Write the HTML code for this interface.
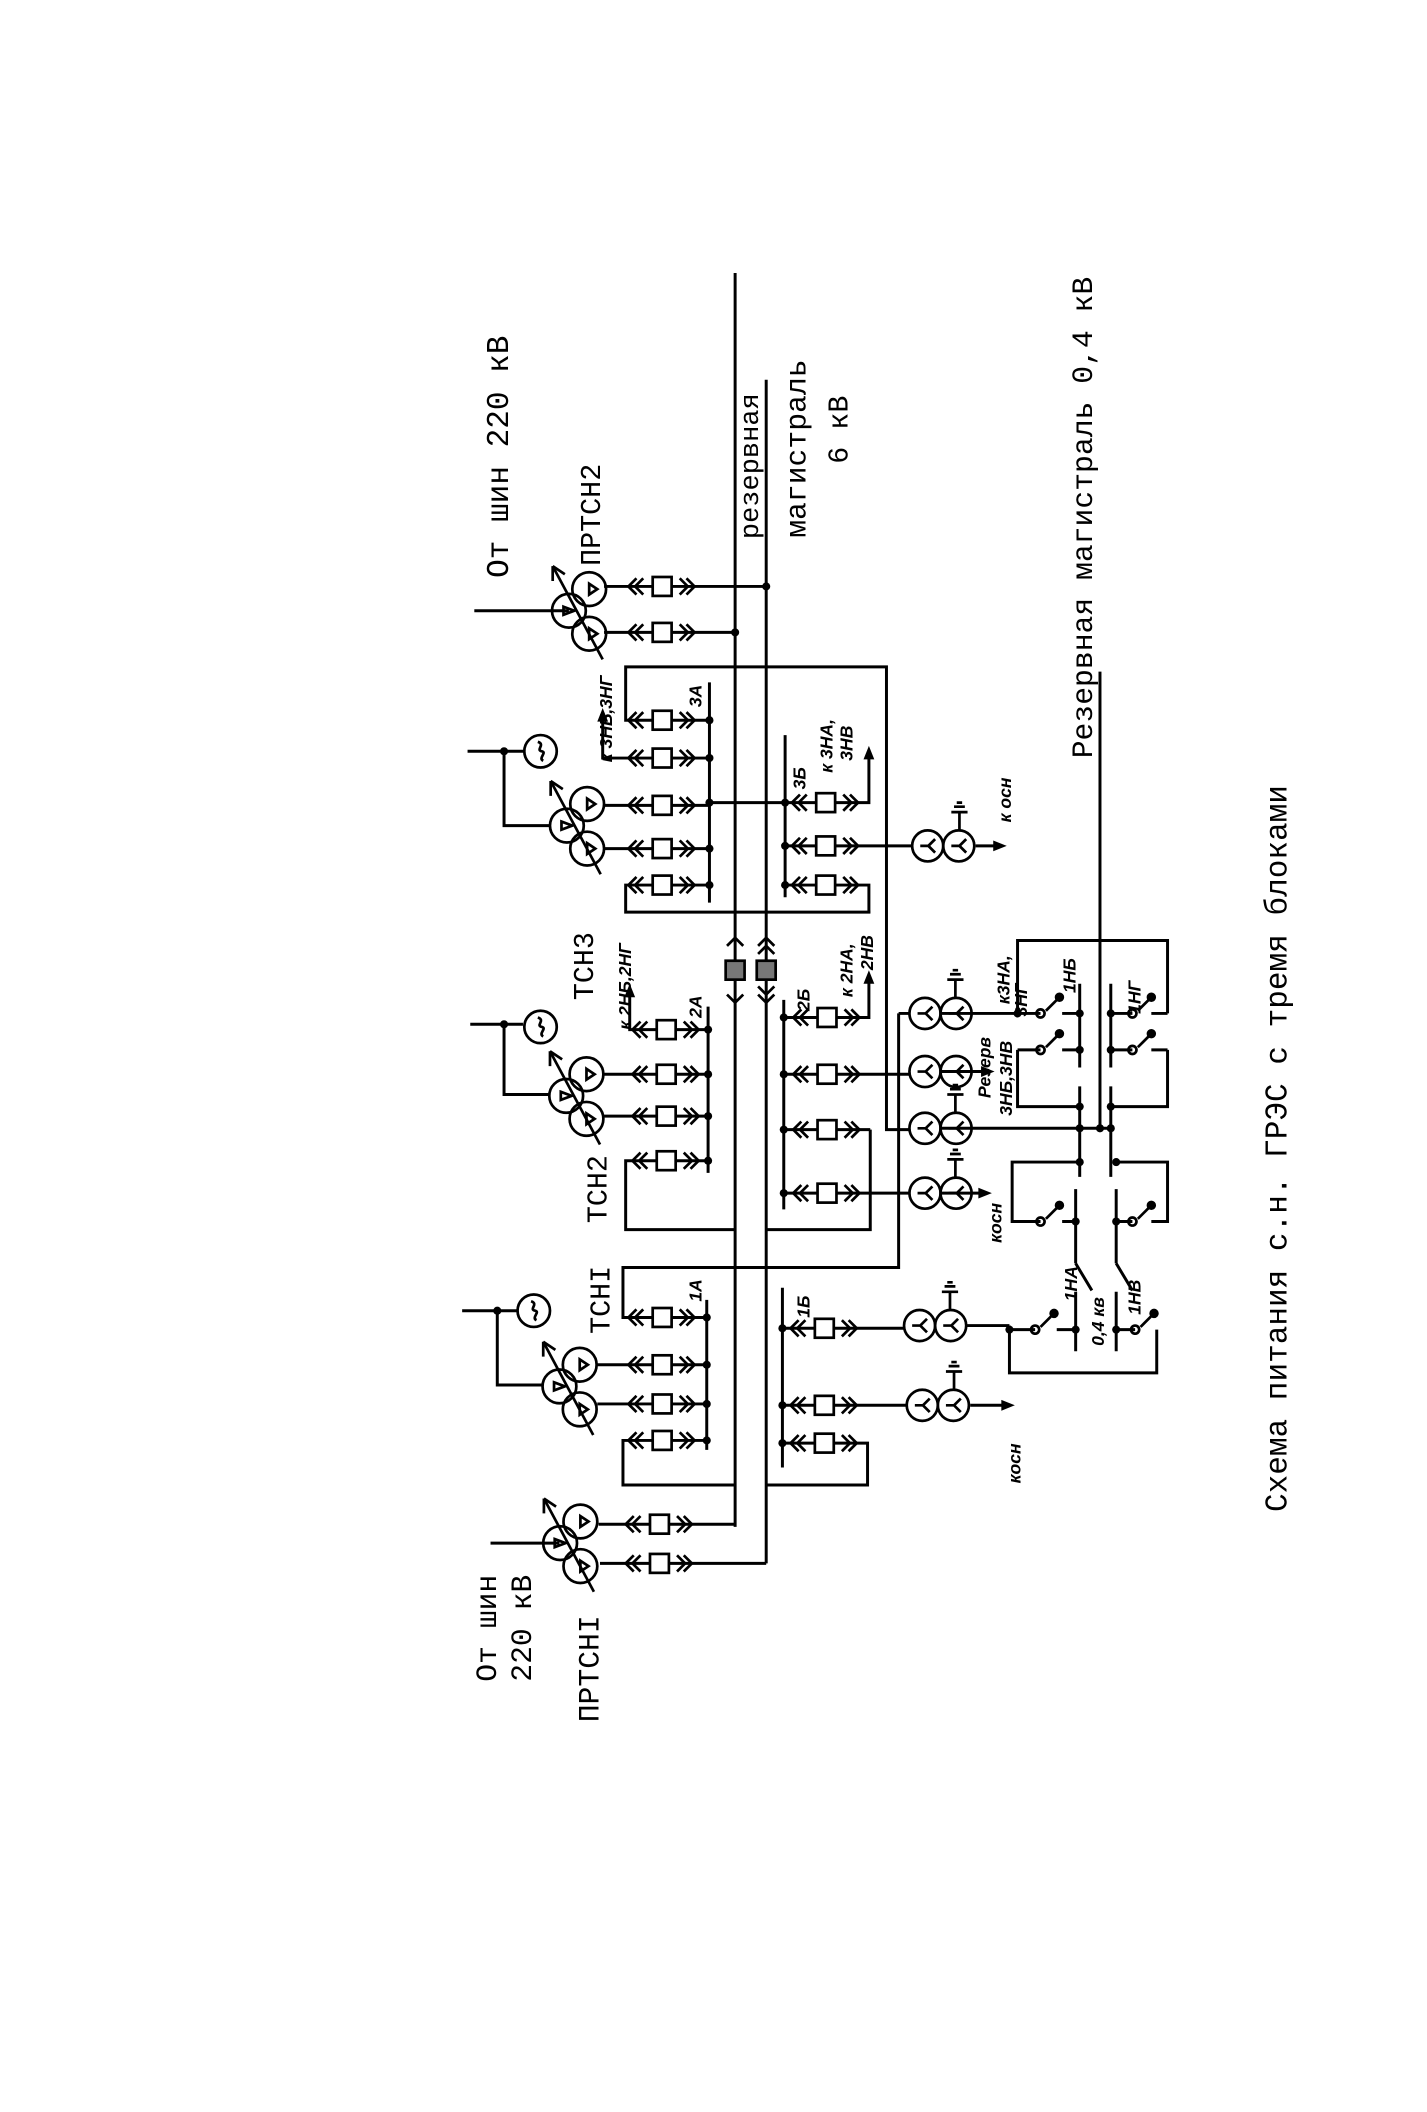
<!DOCTYPE html>
<html><head><meta charset="utf-8">
<style>
html,body{margin:0;padding:0;background:#fff;}
svg{display:block;}
.t{font-family:"Liberation Mono",monospace;fill:#000;}
.h{font-family:"Liberation Sans",sans-serif;font-weight:bold;font-style:italic;fill:#000;font-size:13px;}
</style></head><body>
<svg width="1427" height="2112" viewBox="0 0 1056 1563" preserveAspectRatio="none" xmlns="http://www.w3.org/2000/svg">
<defs>
<g id="b"><path d="M-14,-6 L-20,0 L-14,6 M-19,-6 L-25,0 L-19,6 M13,-6 L19,0 L13,6 M18,-6 L24,0 L18,6" fill="none" stroke="#000" stroke-width="2"/><rect x="-7" y="-7" width="14" height="14" fill="#fff" stroke="#000" stroke-width="2"/></g>
<g id="yy" fill="none" stroke="#000" stroke-width="2"><circle cx="-11.5" cy="0" r="11.5" fill="#fff"/><circle cx="11.5" cy="0" r="11.5"/><path d="M-17,0 H-11 L-6,-5 M-11,0 L-6,5 M6,0 H12 L17,-5 M12,0 L17,5"/></g>
<g id="gen" fill="none" stroke="#000" stroke-width="2"><circle r="12" fill="#fff"/><path d="M-2,-7 C4,-5 -4,-1 1,0 C5,1 -2,5 2,7"/></g>
<g id="t3" fill="none" stroke="#000" stroke-width="2"><circle cx="0" cy="0" r="12.5"/><circle cx="15" cy="-16" r="12.5"/><circle cx="15" cy="17" r="12.5"/><path d="M-4,-3 L4,0 L-4,3Z M15,-20 L21,-16 L15,-12Z M15,13 L21,17 L15,21Z"/><path d="M25,36 L-12,-33"/><path d="M-12,-33 L-12,-22 M-12,-33 L-3,-27"/></g>
<g id="gnd" stroke="#000" stroke-width="2"><path d="M0,0 V-14 M-6,-14 H6 M-4,-18 H4 M-2,-21 H2"/></g>
<g id="sw" fill="none" stroke="#000" stroke-width="2"><circle cx="0" cy="0" r="3"/><path d="M4,-2 L16,-14"/><circle cx="14" cy="-12" r="2.5" fill="#000"/></g>
</defs>
<g fill="none" stroke="#000" stroke-width="2.2">
<!-- rails -->
<path d="M544,202 V1130 M567,281 V1157"/>
<!-- PRTSN2 -->
<path d="M351,452 H421 M447,434 H567 M447,468 H544"/>
<!-- unit 3 -->
<path d="M346,556 H388 M373,556 V611 H407 M447,596 H525 M447,628 H525"/>
<path d="M525,505 V668 M525,533 H463 V493.5 H656 V836 H676 M525,561 H446 V528 M525,655 H463 V675 H644 M525,594 H581"/>
<path d="M581,544 V664 M581,594 H643 V556 M581,626 H676 M581,655 H643 V676 M722,626 H740"/>
<!-- unit 2 -->
<path d="M348,758 H387 M373,758 V810 H407 M447,795 H524 M447,826 H524"/>
<path d="M524,745 V868 M524,762 H466 V732 M524,859 H463 V910 H544 M567,910 H644 V836 M580,836 H644"/>
<path d="M580,740 V895 M580,753 H643 V722 M580,795 H674 M580,883 H674"/>
<path d="M665,750 H674 M665,750 V938 H461 V975 H523"/>
<!-- unit 1 -->
<path d="M342,970 H383 M368,970 V1025 H402 M442,1010 H523 M442,1039 H523 M523,962 V1073 M523,1066 H461 V1099 H544 M567,1099 H642 V1068 H579"/>
<path d="M579,953 V1086 M579,983 H669 M579,1040 H671 M715,981 H747 M718,1040 H745"/>
<!-- PRTSN1 -->
<path d="M363,1142 H414 M443,1128 H544 M444,1157 H567"/>
<!-- YY secondaries unit 2 -->
<path d="M696,750 H753 M696,793 H730 M696,835 H822 M696,883 H728"/>
<!-- 0.4kV -->
<path d="M814,497 V835"/>
<path d="M753,750 V696 H864 V750 M753,777 V819 H799 M822,819 H864 V777"/>
<path d="M799,728 V790 M799,804 V871 M822,728 V790 M822,804 V871"/>
<path d="M753,750 H770 M786,750 H799 M822,750 H838 M852,750 H864 M753,777 H770 M786,777 H799 M822,777 H838 M852,777 H864"/>
<path d="M799,860 H749 V904 H770 M786,904 H796 M826,860 H864 V904 H852 M838,904 H826"/>
<path d="M796,880 V935 M826,880 V935 M796,935 L808,955 M826,935 L838,955 M796,956 V1000 M826,956 V1000"/>
<path d="M747,981 V1016 H856 V984 M747,984 H766 M782,984 H796 M826,984 H840"/>
</g>
<!-- dots -->
<g fill="#000">
<circle cx="567" cy="434" r="3"/><circle cx="544" cy="468" r="3"/>
<circle cx="373" cy="556" r="3"/><circle cx="525" cy="533" r="3"/><circle cx="525" cy="561" r="3"/><circle cx="525" cy="594" r="3"/><circle cx="525" cy="628" r="3"/><circle cx="525" cy="655" r="3"/>
<circle cx="581" cy="594" r="3"/><circle cx="581" cy="626" r="3"/><circle cx="581" cy="655" r="3"/>
<circle cx="373" cy="758" r="3"/><circle cx="524" cy="762" r="3"/><circle cx="524" cy="795" r="3"/><circle cx="524" cy="826" r="3"/><circle cx="524" cy="859" r="3"/>
<circle cx="580" cy="753" r="3"/><circle cx="580" cy="795" r="3"/><circle cx="580" cy="836" r="3"/><circle cx="580" cy="883" r="3"/>
<circle cx="368" cy="970" r="3"/><circle cx="523" cy="975" r="3"/><circle cx="523" cy="1010" r="3"/><circle cx="523" cy="1039" r="3"/><circle cx="523" cy="1066" r="3"/>
<circle cx="579" cy="983" r="3"/><circle cx="579" cy="1040" r="3"/><circle cx="579" cy="1068" r="3"/>
<circle cx="753" cy="750" r="3"/><circle cx="799" cy="750" r="3"/><circle cx="799" cy="777" r="3"/><circle cx="822" cy="750" r="3"/><circle cx="822" cy="777" r="3"/>
<circle cx="799" cy="819" r="3"/><circle cx="822" cy="819" r="3"/><circle cx="799" cy="835" r="3"/><circle cx="814" cy="835" r="3"/><circle cx="822" cy="835" r="3"/>
<circle cx="799" cy="860" r="3"/><circle cx="826" cy="860" r="3"/><circle cx="796" cy="904" r="3"/><circle cx="826" cy="904" r="3"/>
<circle cx="747" cy="984" r="3"/><circle cx="796" cy="984" r="3"/><circle cx="826" cy="984" r="3"/>
<!-- arrowheads -->
<path d="M446,524 L442,534 L450,534Z M466,728 L462,738 L470,738Z M643,552 L639,562 L647,562Z M643,718 L639,728 L647,728Z"/>
<path d="M745,626 L735,622 L735,630Z M736,793 L726,789 L726,797Z M734,883 L724,879 L724,887Z M751,1040 L741,1036 L741,1044Z"/>
</g>
<!-- breakers -->
<use href="#b" x="490" y="434"/><use href="#b" x="490" y="468"/>
<use href="#b" x="490" y="533"/><use href="#b" x="490" y="561"/><use href="#b" x="490" y="596"/><use href="#b" x="490" y="628"/><use href="#b" x="490" y="655"/>
<use href="#b" x="611" y="594"/><use href="#b" x="611" y="626"/><use href="#b" x="611" y="655"/>
<use href="#b" x="493" y="762"/><use href="#b" x="493" y="795"/><use href="#b" x="493" y="826"/><use href="#b" x="493" y="859"/>
<use href="#b" x="612" y="753"/><use href="#b" x="612" y="795"/><use href="#b" x="612" y="836"/><use href="#b" x="612" y="883"/>
<use href="#b" x="490" y="975"/><use href="#b" x="490" y="1010"/><use href="#b" x="490" y="1039"/><use href="#b" x="490" y="1066"/>
<use href="#b" x="610" y="983"/><use href="#b" x="610" y="1040"/><use href="#b" x="610" y="1068"/>
<use href="#b" x="488" y="1128"/><use href="#b" x="488" y="1157"/>
<!-- hatched boxes -->
<g stroke="#000" stroke-width="2"><rect x="537" y="711" width="14" height="14" fill="#777"/><rect x="560" y="711" width="14" height="14" fill="#777"/>
<path d="M538,700 L544,694 L550,700 M538,736 L544,742 L550,736 M561,700 L567,694 L573,700 M561,736 L567,742 L573,736 M561,706 L567,700 L573,706 M561,730 L567,736 L573,730" fill="none"/></g>
<!-- generators / transformers -->
<use href="#gen" x="400" y="556"/><use href="#gen" x="400" y="760"/><use href="#gen" x="395" y="970"/>
<use href="#t3" x="421" y="452"/><use href="#t3" x="419.5" y="611"/><use href="#t3" x="419" y="811"/><use href="#t3" x="414" y="1026"/><use href="#t3" x="414.5" y="1142"/>
<use href="#yy" x="698" y="626"/><use href="#gnd" x="710" y="615"/>
<use href="#yy" x="696" y="750"/><use href="#gnd" x="707" y="739"/>
<use href="#yy" x="696" y="793"/><use href="#yy" x="696" y="835"/><use href="#gnd" x="707" y="824"/>
<use href="#yy" x="696" y="883"/><use href="#gnd" x="707" y="872"/>
<use href="#yy" x="692" y="981"/><use href="#gnd" x="703" y="970"/>
<use href="#yy" x="694" y="1040"/><use href="#gnd" x="706" y="1029"/>
<!-- switches -->
<use href="#sw" x="770" y="750"/><use href="#sw" x="770" y="777"/><use href="#sw" x="838" y="750"/><use href="#sw" x="838" y="777"/>
<use href="#sw" x="770" y="904"/><use href="#sw" x="838" y="904"/><use href="#sw" x="766" y="984"/><use href="#sw" x="840" y="984"/>
<!-- typed text -->
<g class="t">
<text transform="translate(376,338) rotate(-90)" text-anchor="middle" font-size="23">От шин 220 кВ</text>
<text transform="translate(444,381) rotate(-90)" text-anchor="middle" font-size="21">ПРТСН2</text>
<text transform="translate(561,345) rotate(-90)" text-anchor="middle" font-size="20">резервная</text>
<text transform="translate(596,332) rotate(-90)" text-anchor="middle" font-size="22">магистраль</text>
<text transform="translate(627,318) rotate(-90)" text-anchor="middle" font-size="21">6 кВ</text>
<text transform="translate(808,383) rotate(-90)" text-anchor="middle" font-size="22">Резервная магистраль 0,4 кВ</text>
<text transform="translate(439,715) rotate(-90)" text-anchor="middle" font-size="21">ТСН3</text>
<text transform="translate(449,880) rotate(-90)" text-anchor="middle" font-size="21">ТСН2</text>
<text transform="translate(451,962) rotate(-90)" text-anchor="middle" font-size="21">ТСНI</text>
<text transform="translate(367,1205) rotate(-90)" text-anchor="middle" font-size="22">От шин</text>
<text transform="translate(393,1205) rotate(-90)" text-anchor="middle" font-size="22">220 кВ</text>
<text transform="translate(443,1235) rotate(-90)" text-anchor="middle" font-size="22">ПРТСНI</text>
<text transform="translate(952,850) rotate(-90)" text-anchor="middle" font-size="23">Схема питания с.н. ГРЭС с тремя блоками</text>
</g>
<!-- handwritten labels -->
<g class="h">
<text transform="translate(453,532) rotate(-90)" text-anchor="middle">к 3НБ,3НГ</text>
<text transform="translate(519,515) rotate(-90)" text-anchor="middle">3А</text>
<text transform="translate(596,576) rotate(-90)" text-anchor="middle">3Б</text>
<text transform="translate(616,552) rotate(-90)" text-anchor="middle">к 3НА,</text>
<text transform="translate(631,550) rotate(-90)" text-anchor="middle">3НВ</text>
<text transform="translate(748,592) rotate(-90)" text-anchor="middle">к осн</text>
<text transform="translate(467,730) rotate(-90)" text-anchor="middle">к 2НБ,2НГ</text>
<text transform="translate(519,745) rotate(-90)" text-anchor="middle">2А</text>
<text transform="translate(599,740) rotate(-90)" text-anchor="middle">2Б</text>
<text transform="translate(631,718) rotate(-90)" text-anchor="middle">к 2НА,</text>
<text transform="translate(646,705) rotate(-90)" text-anchor="middle">2НВ</text>
<text transform="translate(747,725) rotate(-90)" text-anchor="middle">к3НА,</text>
<text transform="translate(760,740) rotate(-90)" text-anchor="middle">3НГ</text>
<text transform="translate(733,790) rotate(-90)" text-anchor="middle">Резерв</text>
<text transform="translate(749,798) rotate(-90)" text-anchor="middle">3НБ,3НВ</text>
<text transform="translate(796,722) rotate(-90)" text-anchor="middle">1НБ</text>
<text transform="translate(844,738) rotate(-90)" text-anchor="middle">1НГ</text>
<text transform="translate(741,905) rotate(-90)" text-anchor="middle">косн</text>
<text transform="translate(519,955) rotate(-90)" text-anchor="middle">1А</text>
<text transform="translate(599,967) rotate(-90)" text-anchor="middle">1Б</text>
<text transform="translate(797,950) rotate(-90)" text-anchor="middle">1НА</text>
<text transform="translate(844,960) rotate(-90)" text-anchor="middle">1НВ</text>
<text transform="translate(817,978) rotate(-90)" text-anchor="middle">0,4 кв</text>
<text transform="translate(755,1083) rotate(-90)" text-anchor="middle">косн</text>
</g>
</svg>
</body></html>
